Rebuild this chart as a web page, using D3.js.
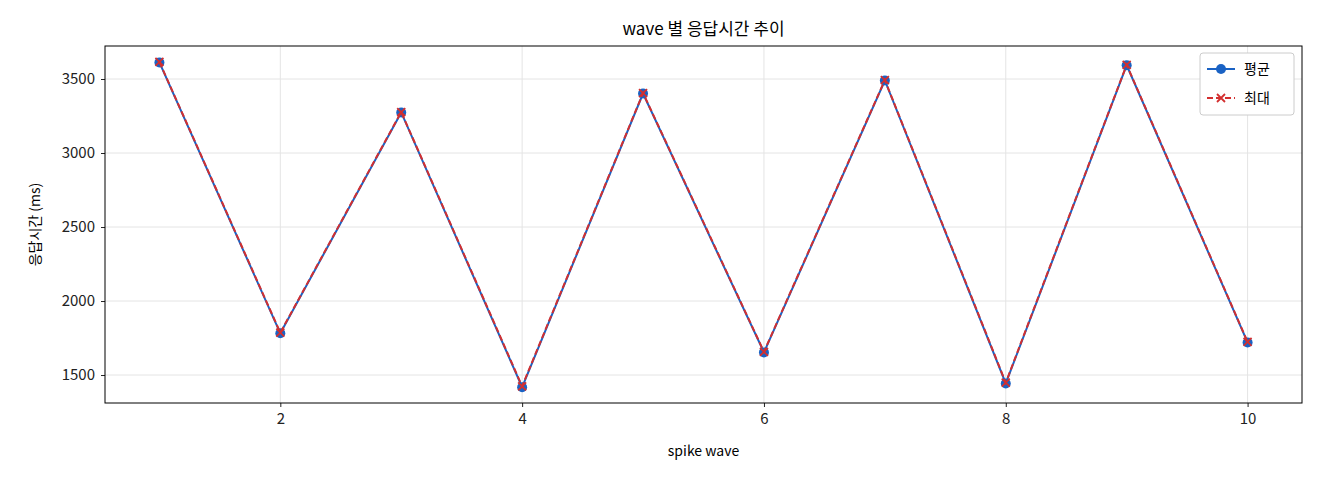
<!DOCTYPE html>
<html><head><meta charset="utf-8">
<script src="https://cdn.jsdelivr.net/npm/d3@7"></script>
<style>body{margin:0;background:#fff;font-family:"Noto Sans CJK KR","DejaVu Sans",sans-serif;}</style>
</head><body><svg id="c" width="1320" height="480"></svg>
<script>
const waves=[1,2,3,4,5,6,7,8,9,10];
const avgVals=[3612,1782,3274,1418,3402,1653,3490,1443,3593,1720];
const maxVals=[3615,1786,3277,1424,3405,1657,3493,1448,3596,1724];
const yTicks=[1500,2000,2500,3000,3500];
const xTicks=[2,4,6,8,10];
const svg=d3.select("#c");
const L=105,R=1302,T=46,B=403;
const x=d3.scaleLinear().domain([0.55,10.45]).range([L,R]);
const y=d3.scaleLinear().domain([1311,3723]).range([B,T]);
const g=svg.append("g");
g.selectAll(".gx").data(xTicks).join("line").attr("x1",d=>x(d)).attr("x2",d=>x(d)).attr("y1",T).attr("y2",B).attr("stroke","#e4e4e4");
g.selectAll(".gy").data(yTicks).join("line").attr("y1",d=>y(d)).attr("y2",d=>y(d)).attr("x1",L).attr("x2",R).attr("stroke","#e4e4e4");
const xa=svg.append("g").attr("transform",`translate(0,${B})`).call(d3.axisBottom(x).tickValues(xTicks).tickFormat(d3.format("d")).tickSize(4).tickPadding(6));
const ya=svg.append("g").attr("transform",`translate(${L},0)`).call(d3.axisLeft(y).tickValues(yTicks).tickFormat(d3.format("d")).tickSize(4).tickPadding(6));
[xa,ya].forEach(a=>{a.select(".domain").remove();a.selectAll("text").attr("font-size",15).attr("fill","#222").attr("font-family","'Noto Sans CJK KR',sans-serif");a.selectAll("line").attr("stroke","#222");});
svg.append("rect").attr("x",L).attr("y",T).attr("width",R-L).attr("height",B-T).attr("fill","none").attr("stroke","#000");
const line=d3.line().x((d,i)=>x(waves[i])).y(d=>y(d));
svg.append("path").datum(avgVals).attr("d",line).attr("fill","none").attr("stroke","#1a62c4").attr("stroke-width",2);
svg.selectAll(".pt").data(avgVals).join("circle").attr("cx",(d,i)=>x(waves[i])).attr("cy",d=>y(d)).attr("r",5).attr("fill","#1a62c4");
svg.append("path").datum(maxVals).attr("d",line).attr("fill","none").attr("stroke","#d32f2f").attr("stroke-width",2).attr("stroke-dasharray","6,3");
const cross=(sel,cx,cy)=>{sel.append("path").attr("d",`M${cx-4},${cy-4}L${cx+4},${cy+4}M${cx-4},${cy+4}L${cx+4},${cy-4}`).attr("stroke","#d32f2f").attr("stroke-width",1.8);};
maxVals.forEach((d,i)=>cross(svg,x(waves[i]),y(d)));
svg.append("text").attr("x",(L+R)/2).attr("y",35).attr("text-anchor","middle").attr("font-size",17).text("wave 별 응답시간 추이");
svg.append("text").attr("x",(L+R)/2).attr("y",456).attr("text-anchor","middle").attr("font-size",14).text("spike wave");
svg.append("text").attr("transform",`translate(40,${(T+B)/2}) rotate(-90)`).attr("text-anchor","middle").attr("font-size",14).text("응답시간 (ms)");
const lg=svg.append("g");
lg.append("rect").attr("x",1200).attr("y",53).attr("width",94).attr("height",62).attr("rx",3).attr("fill","#fff").attr("stroke","#ccc");
lg.append("line").attr("x1",1207).attr("x2",1235).attr("y1",69).attr("y2",69).attr("stroke","#1a62c4").attr("stroke-width",2);
lg.append("circle").attr("cx",1221).attr("cy",69).attr("r",5).attr("fill","#1a62c4");
lg.append("text").attr("x",1244).attr("y",74).attr("font-size",14).text("평균");
lg.append("line").attr("x1",1207).attr("x2",1235).attr("y1",98).attr("y2",98).attr("stroke","#d32f2f").attr("stroke-width",2).attr("stroke-dasharray","6,3");
cross(lg,1221,98);
lg.append("text").attr("x",1244).attr("y",103).attr("font-size",14).text("최대");
</script></body></html>
